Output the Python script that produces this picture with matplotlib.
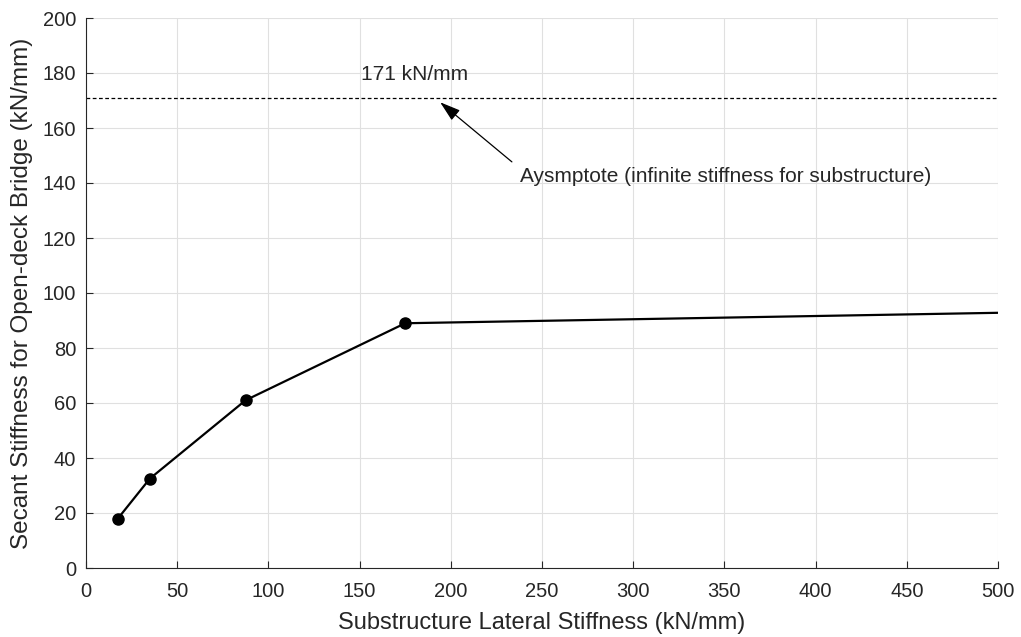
import numpy as np
import matplotlib
matplotlib.use("Agg")
from matplotlib import pyplot as plt

plt.rcParams['font.family'] = ['Liberation Sans', 'DejaVu Sans']

# secant stiffness vs substructure lateral stiffness
k_sub = [17.5, 35, 87.5, 175]
k_sec = [18, 32.5, 61, 89]
k_tail = [175, 500]
k_sec_tail = [89, 92.8]
asymptote = 171

fig = plt.figure(figsize=(10.21, 6.37), dpi=100)
ax = fig.add_axes([86/1021, 1 - 568/637, 912/1021, 550/637])

ax.plot(k_sub, k_sec, color='k', lw=1.6, marker='o', ms=8)
ax.plot(k_tail, k_sec_tail, color='k', lw=1.6)
ax.axhline(asymptote, color='k', lw=0.9, ls=(0, (3, 2)))

ax.text(151, 179.5, "%d kN/mm" % asymptote, fontsize=15, color='#262626', va='center')
ax.annotate("Aysmptote (infinite stiffness for substructure)",
            xy=(193, asymptote - 1), xytext=(238, 142.5),
            fontsize=15, color='#262626', va='center',
            arrowprops=dict(arrowstyle='-|>,head_length=0.7,head_width=0.22',
                            color='k', lw=0.9,
                            mutation_scale=18, shrinkA=0,
                            relpos=(-0.02, 1.25)))

ax.set_xlim(0, 500)
ax.set_ylim(0, 200)
ax.set_xticks(np.arange(0, 501, 50))
ax.set_yticks(np.arange(0, 201, 20))
ax.grid(True, color='#e0e0e0', lw=0.8)
ax.set_axisbelow(True)
ax.tick_params(direction='in', labelsize=14.5, colors='#262626', length=5)
ax.tick_params(axis='x', pad=10)
ax.tick_params(axis='y', pad=7)
for s in ['top', 'right']:
    ax.spines[s].set_visible(False)
for s in ['left', 'bottom']:
    ax.spines[s].set_color('#262626')

ax.set_xlabel("Substructure Lateral Stiffness (kN/mm)", fontsize=17, color='#262626', labelpad=8)
ax.set_ylabel("Secant Stiffness for Open-deck Bridge (kN/mm)", fontsize=17.5, color='#262626', labelpad=7)

fig.savefig("out.png", dpi=100)
